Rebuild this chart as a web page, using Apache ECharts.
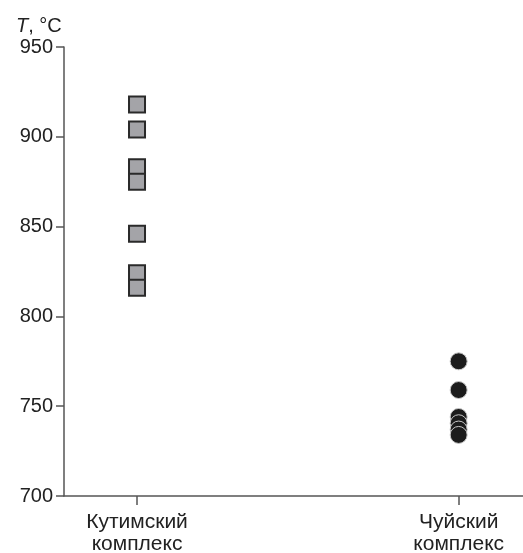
<!DOCTYPE html>
<html>
<head>
<meta charset="utf-8">
<script src="https://cdn.jsdelivr.net/npm/echarts@6/dist/echarts.min.js"></script>
<style>html,body{margin:0;padding:0;background:#fff}#c{width:523px;height:553px}</style>
</head>
<body>
<div id="c"></div>
<script>
var categories = ['Кутимский\nкомплекс', 'Чуйский\nкомплекс'];
var categoryPositions = [1, 2];
var kutimT = [918, 904, 883, 875, 846, 824, 816];
var chuyT = [775, 759, 744, 740.5, 737, 734];
var yTicks = [700, 750, 800, 850, 900, 950];

var chart = echarts.init(document.getElementById('c'), null, {renderer: 'canvas'});
var font = '"Liberation Sans", Arial, Helvetica, sans-serif';
chart.setOption({
  animation: false,
  title: {
    text: '{i|T}, °C',
    left: 11, top: 11,
    textStyle: {
      fontFamily: font, fontSize: 20, fontWeight: 'normal', color: '#222',
      rich: { i: { fontStyle: 'italic', fontFamily: font, fontSize: 20, color: '#222' } }
    }
  },
  grid: { left: 64, top: 47, right: 0, bottom: 57, containLabel: false, outerBoundsMode: 'none' },
  xAxis: {
    type: 'value', min: 0.773, max: 2.2,
    axisLine: { show: true, lineStyle: { color: '#555', width: 1.5 } },
    axisTick: { show: true, customValues: categoryPositions, length: 9, lineStyle: { color: '#555', width: 1.5 } },
    axisLabel: {
      show: true, customValues: categoryPositions, margin: 15,
      fontFamily: font, fontSize: 21, color: '#222', lineHeight: 22,
      formatter: function (v) { var i = categoryPositions.indexOf(Math.round(v)); return i >= 0 ? categories[i] : ''; }
    },
    splitLine: { show: false }
  },
  yAxis: {
    type: 'value', min: 700, max: 950, interval: 50,
    axisLine: { show: true, lineStyle: { color: '#555', width: 1.5 } },
    axisTick: { show: true, length: 8, lineStyle: { color: '#555', width: 1.5 } },
    axisLabel: { margin: 11, fontFamily: font, fontSize: 20, color: '#222',
      formatter: function (v) { return yTicks.indexOf(v) >= 0 ? String(v) : ''; } },
    splitLine: { show: false }
  },
  series: [
    {
      type: 'scatter', symbol: 'rect', symbolSize: 16,
      data: kutimT.map(function (t) { return [categoryPositions[0], t]; }),
      itemStyle: { color: '#a4a4a8', borderColor: '#2a2a2a', borderWidth: 2, opacity: 1 },
      emphasis: { disabled: true }
    },
    {
      type: 'scatter', symbol: 'circle', symbolSize: 17,
      data: chuyT.map(function (t) { return [categoryPositions[1], t]; }),
      itemStyle: { color: '#1c1c1c', borderColor: '#c8c8c8', borderWidth: 1, opacity: 1 },
      emphasis: { disabled: true }
    }
  ]
});
</script>
</body>
</html>
